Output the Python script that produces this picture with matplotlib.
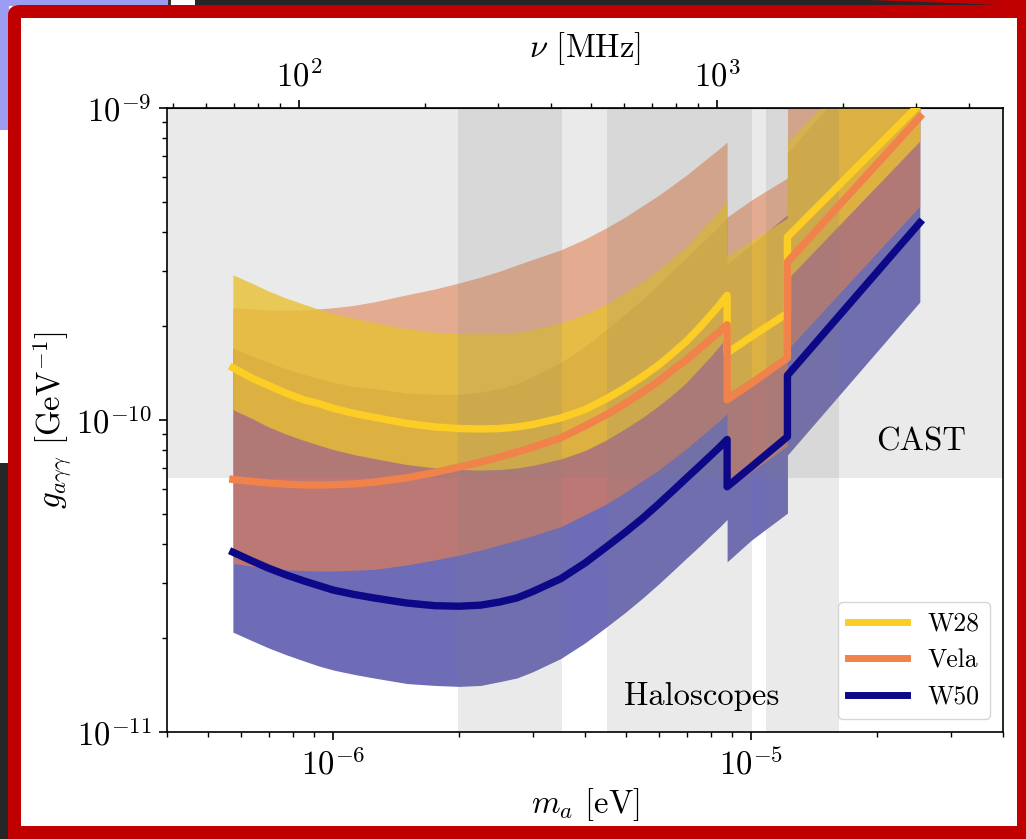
import numpy as np
import matplotlib.pyplot as plt
from matplotlib.patches import Rectangle, FancyBboxPatch, Polygon
from matplotlib.ticker import FixedLocator, NullFormatter

plt.rcParams['font.family'] = 'serif'
plt.rcParams['font.serif'] = ['cmr10']
plt.rcParams['mathtext.fontset'] = 'cm'
plt.rcParams['axes.formatter.use_mathtext'] = True

# ---------------- data ----------------
# axion mass grid [eV]; repeated masses are the receiver band edges
mass_ev = [5.75e-7, 6.4e-7, 7e-7, 7.7e-7, 8.5e-7, 9.2e-7, 1e-6, 1.12e-6, 1.25e-6,
           1.5e-6, 1.75e-6, 2e-6, 2.25e-6, 2.5e-6, 2.75e-6, 3e-6, 3.5e-6, 4e-6,
           4.5e-6, 5e-6, 5.5e-6, 6e-6, 6.5e-6, 7e-6, 7.5e-6, 8e-6, 8.4e-6, 8.75e-6,
           8.75e-6, 1e-5, 1.22e-5,
           1.22e-5, 2.53e-5]

# sensitivity on g_agg [GeV^-1] per source: central curve and band edges
w28_g = [1.47e-10, 1.36e-10, 1.29e-10, 1.22e-10, 1.16e-10, 1.13e-10, 1.09e-10,
         1.05e-10, 1.02e-10, 9.75e-11, 9.50e-11, 9.39e-11, 9.36e-11, 9.39e-11,
         9.50e-11, 9.67e-11, 1.015e-10, 1.08e-10, 1.17e-10, 1.27e-10, 1.38e-10,
         1.50e-10, 1.64e-10, 1.79e-10, 1.97e-10, 2.17e-10, 2.34e-10, 2.51e-10,
         1.64e-10, 1.85e-10, 2.20e-10,
         3.86e-10, 1.03e-9]
w28_hi = [2.92e-10, 2.74e-10, 2.59e-10, 2.46e-10, 2.35e-10, 2.27e-10, 2.19e-10,
          2.12e-10, 2.05e-10, 1.96e-10, 1.91e-10, 1.89e-10, 1.89e-10, 1.89e-10,
          1.91e-10, 1.95e-10, 2.05e-10, 2.18e-10, 2.35e-10, 2.56e-10, 2.78e-10,
          3.03e-10, 3.31e-10, 3.61e-10, 3.98e-10, 4.38e-10, 4.71e-10, 5.05e-10,
          3.35e-10, 3.75e-10, 4.44e-10,
          7.78e-10, 2.08e-9]
w28_lo = [1.08e-10, 1.01e-10, 9.50e-11, 9.02e-11, 8.60e-11, 8.32e-11, 8.04e-11,
          7.75e-11, 7.53e-11, 7.20e-11, 7.02e-11, 6.94e-11, 6.91e-11, 6.94e-11,
          7.02e-11, 7.15e-11, 7.50e-11, 7.98e-11, 8.63e-11, 9.39e-11, 1.02e-10,
          1.11e-10, 1.21e-10, 1.32e-10, 1.46e-10, 1.60e-10, 1.73e-10, 1.85e-10,
          1.21e-10, 1.36e-10, 1.63e-10,
          2.83e-10, 7.84e-10]

vela_g = [6.45e-11, 6.35e-11, 6.28e-11, 6.23e-11, 6.19e-11, 6.19e-11, 6.20e-11,
          6.24e-11, 6.32e-11, 6.53e-11, 6.79e-11, 7.07e-11, 7.33e-11, 7.61e-11,
          7.90e-11, 8.18e-11, 8.76e-11, 9.57e-11, 1.04e-10, 1.13e-10, 1.23e-10,
          1.33e-10, 1.45e-10, 1.56e-10, 1.69e-10, 1.82e-10, 1.92e-10, 2.02e-10,
          1.16e-10, 1.31e-10, 1.58e-10,
          3.21e-10, 9.36e-10]
vela_hi = [2.29e-10, 2.27e-10, 2.25e-10, 2.25e-10, 2.25e-10, 2.27e-10, 2.29e-10,
           2.33e-10, 2.39e-10, 2.52e-10, 2.63e-10, 2.75e-10, 2.87e-10, 3.00e-10,
           3.14e-10, 3.27e-10, 3.51e-10, 3.80e-10, 4.13e-10, 4.48e-10, 4.87e-10,
           5.25e-10, 5.67e-10, 6.10e-10, 6.57e-10, 7.05e-10, 7.42e-10, 7.78e-10,
           4.47e-10, 5.07e-10, 5.97e-10,
           1.21e-9, 3.53e-9]
vela_lo = [3.47e-11, 3.40e-11, 3.35e-11, 3.31e-11, 3.29e-11, 3.28e-11, 3.28e-11,
           3.30e-11, 3.32e-11, 3.43e-11, 3.56e-11, 3.69e-11, 3.83e-11, 3.98e-11,
           4.12e-11, 4.26e-11, 4.55e-11, 4.97e-11, 5.38e-11, 5.88e-11, 6.40e-11,
           6.91e-11, 7.50e-11, 8.10e-11, 8.76e-11, 9.43e-11, 9.96e-11, 1.05e-10,
           6.06e-11, 6.84e-11, 8.25e-11,
           1.68e-10, 4.85e-10]

w50_g = [3.77e-11, 3.53e-11, 3.35e-11, 3.19e-11, 3.05e-11, 2.95e-11, 2.85e-11,
         2.76e-11, 2.69e-11, 2.59e-11, 2.54e-11, 2.53e-11, 2.55e-11, 2.61e-11,
         2.69e-11, 2.82e-11, 3.10e-11, 3.48e-11, 3.92e-11, 4.37e-11, 4.85e-11,
         5.38e-11, 5.94e-11, 6.52e-11, 7.10e-11, 7.70e-11, 8.19e-11, 8.66e-11,
         6.11e-11, 7.08e-11, 8.84e-11,
         1.39e-10, 4.29e-10]
w50_hi = [1.70e-10, 1.60e-10, 1.53e-10, 1.46e-10, 1.40e-10, 1.36e-10, 1.32e-10,
          1.28e-10, 1.26e-10, 1.22e-10, 1.21e-10, 1.21e-10, 1.23e-10, 1.26e-10,
          1.31e-10, 1.38e-10, 1.53e-10, 1.72e-10, 1.95e-10, 2.19e-10, 2.44e-10,
          2.72e-10, 3.02e-10, 3.32e-10, 3.63e-10, 3.94e-10, 4.21e-10, 4.46e-10,
          3.15e-10, 3.65e-10, 4.55e-10,
          7.17e-10, 2.20e-9]
w50_lo = [2.09e-11, 1.96e-11, 1.86e-11, 1.77e-11, 1.69e-11, 1.63e-11, 1.58e-11,
          1.53e-11, 1.49e-11, 1.43e-11, 1.41e-11, 1.40e-11, 1.41e-11, 1.45e-11,
          1.49e-11, 1.56e-11, 1.72e-11, 1.93e-11, 2.17e-11, 2.42e-11, 2.69e-11,
          2.98e-11, 3.29e-11, 3.61e-11, 3.93e-11, 4.27e-11, 4.54e-11, 4.80e-11,
          3.51e-11, 4.12e-11, 5.03e-11,
          7.72e-11, 2.39e-10]

# existing limits
cast_limit = 6.5e-11
haloscope_ranges = [(1.99e-6, 3.52e-6), (4.51e-6, 1.006e-5), (1.087e-5, 1.62e-5)]

sources = ['W28', 'Vela', 'W50']
colors = {'W28': '#fccd25', 'Vela': '#f0824a', 'W50': '#0d0887'}
fill_alpha = {'W28': 0.8, 'Vela': 0.6, 'W50': 0.6}
lines = {'W28': w28_g, 'Vela': vela_g, 'W50': w50_g}
bands = {'W28': (w28_lo, w28_hi), 'Vela': (vela_lo, vela_hi), 'W50': (w50_lo, w50_hi)}

H_EV = 4.135667e-15  # Planck constant [eV s]


def mass_to_freq(m):
    # each decay photon carries m_a / 2
    return np.asarray(m) / (2 * H_EV) / 1e6


def freq_to_mass(nu):
    return np.asarray(nu) * 1e6 * 2 * H_EV


# ---------------- figure ----------------
W, H = 1026, 839
fig = plt.figure(figsize=(W / 100, H / 100), dpi=100, facecolor='white')


def px_rect(x0, y0, x1, y1, color, z):
    r = Rectangle((x0 / W, 1 - y1 / H), (x1 - x0) / W, (y1 - y0) / H,
                  transform=fig.transFigure, facecolor=color, edgecolor='none',
                  zorder=z)
    fig.add_artist(r)


# screen background around the frame
px_rect(195, 0, W, 6, '#262626', -5)
px_rect(0, 0, 168, 6, '#9c9cf2', -5)
px_rect(0, 0, 9, 130, '#9c9cf2', -5)
px_rect(168, 0, 171, 6, '#333333', -5)
px_rect(0, 463, 9, H, '#262626', -5)
fig.add_artist(Polygon([(870 / W, 1.0), (1.0, 1.0), (1.0, 1 - 6 / H)],
                       closed=True, transform=fig.transFigure,
                       facecolor='#c00000', edgecolor='none', zorder=-4))

# red frame
fig.add_artist(FancyBboxPatch((8 / W, -0.05), (W + 20 - 8) / W, 1.05 - 5 / H,
                              boxstyle='round,pad=0,rounding_size=0.012',
                              transform=fig.transFigure, facecolor='#c00000',
                              edgecolor='none', zorder=-3))
px_rect(21, 18, 1017, 826, 'white', -2)

ax = fig.add_axes([167 / W, 1 - 732 / H, 836 / W, 624 / H])
ax.set_xscale('log')
ax.set_yscale('log')
ax.set_xlim(4e-7, 4e-5)
ax.set_ylim(1e-11, 1e-9)

# uncertainty bands, drawn bottom to top
for name in ['W50', 'Vela', 'W28']:
    lo, hi = bands[name]
    ax.fill_between(mass_ev, lo, hi, color=colors[name], alpha=fill_alpha[name],
                    lw=0, zorder=1)

# excluded regions
ax.axhspan(cast_limit, 1e-8, color='0.5', alpha=0.16, lw=0, zorder=2)
for lo, hi in haloscope_ranges:
    ax.axvspan(lo, hi, color='0.5', alpha=0.16, lw=0, zorder=2)

for name in sources:
    ax.plot(mass_ev, lines[name], color=colors[name], lw=5.3, label=name, zorder=3)

ax.text(2.55e-5, 8.5e-11, 'CAST', ha='center', va='center', fontsize=23.5)
ax.text(7.6e-6, 1.3e-11, 'Haloscopes', ha='center', va='center', fontsize=23.5)

ax.set_xlabel(r'$m_a$ [eV]', fontsize=23.5, labelpad=4)
ax.set_ylabel(r'$g_{a\gamma\gamma}$ [GeV$^{-1}$]', fontsize=23.5, labelpad=2)

ax.xaxis.set_major_locator(FixedLocator([1e-6, 1e-5]))
ax.yaxis.set_major_locator(FixedLocator([1e-11, 1e-10, 1e-9]))
ax.xaxis.set_minor_formatter(NullFormatter())
ax.yaxis.set_minor_formatter(NullFormatter())

for sp in ax.spines.values():
    sp.set_linewidth(1.2)
ax.tick_params(which='major', length=6, width=1.2, labelsize=23.5, pad=5)
ax.tick_params(which='minor', length=3.5, width=1.0)

secax = ax.secondary_xaxis('top', functions=(mass_to_freq, freq_to_mass))
secax.xaxis.set_major_locator(FixedLocator([1e2, 1e3]))
secax.xaxis.set_minor_formatter(NullFormatter())
secax.set_xlabel(r'$\nu$ [MHz]', fontsize=23.5, labelpad=2)
secax.tick_params(which='major', length=6, width=1.2, labelsize=23.5, pad=5)
secax.tick_params(which='minor', length=3.5, width=1.0)

leg = ax.legend(loc='lower right', fontsize=18.5, handlelength=2.3,
                framealpha=0.8, borderaxespad=0.5)
for h in leg.get_lines():
    h.set_linewidth(5)

fig.savefig('out.png', dpi=100, facecolor=fig.get_facecolor())
